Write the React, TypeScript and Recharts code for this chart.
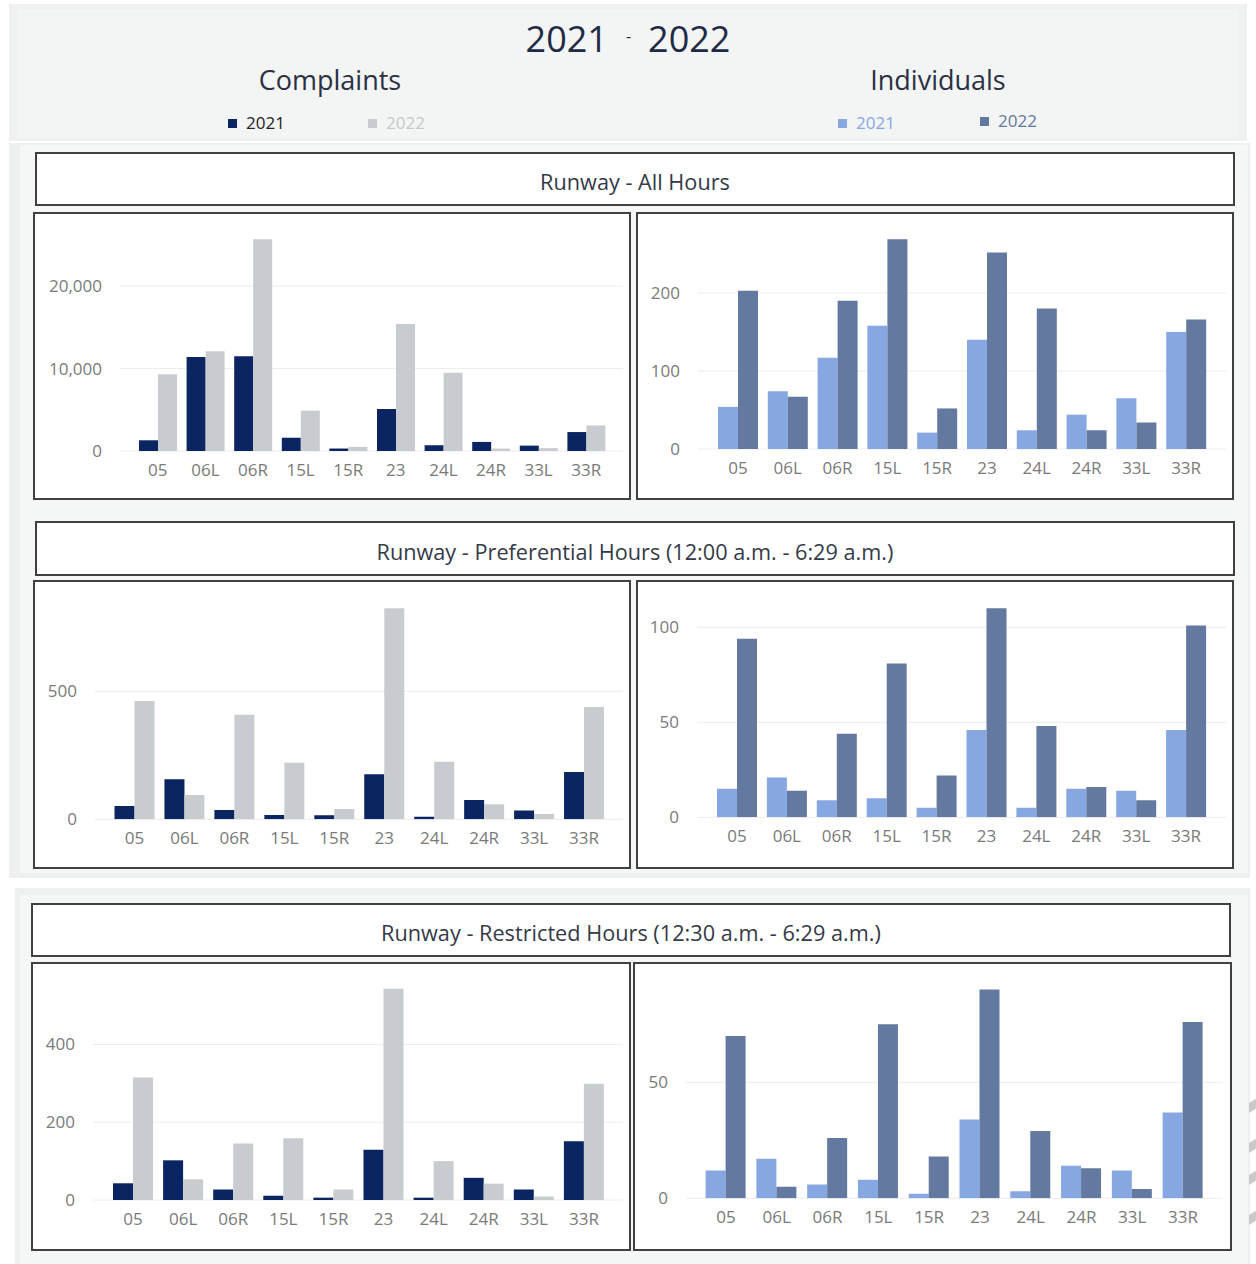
import React from 'react';
import { BarChart, Bar, XAxis, YAxis, CartesianGrid } from 'recharts';

const runways = ['05', '06L', '06R', '15L', '15R', '23', '24L', '24R', '33L', '33R'];

const complaintsAll2021 = [1300, 11400, 11500, 1600, 300, 5100, 700, 1100, 650, 2300];
const complaintsAll2022 = [9300, 12100, 25700, 4900, 500, 15400, 9500, 300, 350, 3100];
const individualsAll2021 = [54, 74, 117, 158, 21, 140, 24, 44, 65, 150];
const individualsAll2022 = [203, 67, 190, 269, 52, 252, 180, 24, 34, 166];

const complaintsPref2021 = [52, 156, 36, 17, 16, 176, 10, 75, 34, 185];
const complaintsPref2022 = [462, 95, 408, 221, 40, 824, 225, 59, 21, 439];
const individualsPref2021 = [15, 21, 9, 10, 5, 46, 5, 15, 14, 46];
const individualsPref2022 = [94, 14, 44, 81, 22, 110, 48, 16, 9, 101];

const complaintsRestr2021 = [43, 102, 27, 11, 6, 129, 6, 57, 27, 151];
const complaintsRestr2022 = [315, 53, 145, 159, 27, 543, 100, 42, 9, 299];
const individualsRestr2021 = [12, 17, 6, 8, 2, 34, 3, 14, 12, 37];
const individualsRestr2022 = [70, 5, 26, 75, 18, 90, 29, 13, 4, 76];

const ticksComplaintsAll = [0, 10000, 20000];
const ticksIndividualsAll = [0, 100, 200];
const ticksComplaintsPref = [0, 500];
const ticksIndividualsPref = [0, 50, 100];
const ticksComplaintsRestr = [0, 200, 400];
const ticksIndividualsRestr = [0, 50];

const FONT = "'Segoe UI', 'Open Sans', sans-serif";
const C_NAVY = '#0a2561';
const C_LGRAY = '#c8ccd0';
const C_LBLUE = '#86a7e2';
const C_SLATE = '#64799f';

const build = (a: number[], b: number[]) => runways.map((r, i) => ({ runway: r, y2021: a[i], y2022: b[i] }));

type ChartCfg = {
  left: number; top: number; w: number; h: number;
  L: number; R: number; T: number; B: number;
  max: number; ticks: number[]; padL: number; padR: number;
  a: number[]; b: number[]; c1: string; c2: string;
};

const fmt = (v: number) => v.toLocaleString('en-US');

function Panel({ cfg }: { cfg: ChartCfg }) {
  const data = build(cfg.a, cfg.b);
  const xH = 30;
  const gridGen = (props: any) => {
    const yAxis = props && props.yAxis;
    if (yAxis && typeof yAxis.scale === 'function') {
      return cfg.ticks.map((t) => yAxis.scale(t));
    }
    const off = props.offset;
    return cfg.ticks.map((t) => off.top + off.height * (1 - t / cfg.max));
  };
  return (
    <div style={{ position: 'absolute', left: cfg.left - 2, top: cfg.top - 2, width: cfg.w + 4, height: cfg.h + 4, border: '2px solid #404040', boxSizing: 'border-box', background: '#fff' }}>
      <BarChart
        width={cfg.w}
        height={cfg.h}
        data={data}
        margin={{ top: cfg.T, right: cfg.w - cfg.R, bottom: cfg.h - cfg.B - xH, left: 0 }}
        barCategoryGap={5}
        barGap={0}
      >
        <CartesianGrid vertical={false} stroke="#ececec" strokeWidth={1} horizontalCoordinatesGenerator={gridGen} />
        <XAxis
          dataKey="runway"
          axisLine={false}
          tickLine={false}
          tickSize={0}
          tickMargin={13}
          height={xH}
          interval={0}
          padding={{ left: cfg.padL, right: cfg.padR }}
          tick={{ fill: '#7a7a7a', fontSize: 17, fontFamily: FONT }}
        />
        <YAxis
          width={cfg.L}
          domain={[0, cfg.max]}
          ticks={cfg.ticks}
          allowDataOverflow
          axisLine={false}
          tickLine={false}
          tickSize={0}
          tickMargin={18}
          tickFormatter={fmt}
          tick={{ fill: '#7a7a7a', fontSize: 17, fontFamily: FONT }}
        />
        <Bar dataKey="y2021" fill={cfg.c1} isAnimationActive={false} />
        <Bar dataKey="y2022" fill={cfg.c2} isAnimationActive={false} />
      </BarChart>
    </div>
  );
}

function TitleBox({ left, top, width, height, text }: { left: number; top: number; width: number; height: number; text: string }) {
  return (
    <div style={{ position: 'absolute', left, top, width, height, border: '2px solid #404040', boxSizing: 'border-box', background: '#fff', display: 'flex', alignItems: 'center', justifyContent: 'center', fontFamily: FONT, fontSize: 21.7, color: '#343a48', paddingTop: 5 }}>
      {text}
    </div>
  );
}

const charts: ChartCfg[] = [
  { left: 35, top: 214, w: 594, h: 284, L: 85, R: 588, T: 14.5, B: 237, max: 27000, ticks: ticksComplaintsAll, padL: 14, padR: 13, a: complaintsAll2021, b: complaintsAll2022, c1: C_NAVY, c2: C_LGRAY },
  { left: 638, top: 214, w: 594, h: 284, L: 60, R: 588, T: 12.7, B: 235, max: 285, ticks: ticksIndividualsAll, padL: 15, padR: 15, a: individualsAll2021, b: individualsAll2022, c1: C_LBLUE, c2: C_SLATE },
  { left: 35, top: 582, w: 594, h: 285, L: 60, R: 588, T: 19.7, B: 237.3, max: 850, ticks: ticksComplaintsPref, padL: 14.5, padR: 14, a: complaintsPref2021, b: complaintsPref2022, c1: C_NAVY, c2: C_LGRAY },
  { left: 638, top: 582, w: 594, h: 285, L: 59, R: 588, T: 16.8, B: 235.3, max: 115, ticks: ticksIndividualsPref, padL: 15, padR: 15, a: individualsPref2021, b: individualsPref2022, c1: C_LBLUE, c2: C_SLATE },
  { left: 33, top: 964, w: 596, h: 285, L: 60, R: 590, T: 14.3, B: 236, max: 570, ticks: ticksComplaintsRestr, padL: 15, padR: 14, a: complaintsRestr2021, b: complaintsRestr2022, c1: C_NAVY, c2: C_LGRAY },
  { left: 635, top: 964, w: 595, h: 285, L: 51, R: 588, T: 13.9, B: 234.3, max: 95, ticks: ticksIndividualsRestr, padL: 14.6, padR: 14.6, a: individualsRestr2021, b: individualsRestr2022, c1: C_LBLUE, c2: C_SLATE },
];

function LegendItem({ left, top, color, textColor, label }: { left: number; top: number; color: string; textColor: string; label: string }) {
  return (
    <div style={{ position: 'absolute', left, top, display: 'flex', alignItems: 'center', fontFamily: FONT, fontSize: 17, color: textColor, lineHeight: '20px' }}>
      <span style={{ display: 'inline-block', width: 9, height: 9, background: color, marginRight: 9 }} />
      <span>{label}</span>
    </div>
  );
}

export default function App() {
  return (
    <div style={{ position: 'absolute', left: 0, top: 0, width: 1256, height: 1264, background: '#fff', overflow: 'hidden', fontFamily: FONT }}>
      {/* header */}
      <div style={{ position: 'absolute', left: 9, top: 4, width: 1238, height: 137, background: '#eff1f0' }} />
      <div style={{ position: 'absolute', left: 17, top: 9, width: 1221, height: 129, background: '#f3f4f4' }} />
      <div style={{ position: 'absolute', left: 0, top: 14, width: 1256, textAlign: 'center', fontSize: 36, color: '#1f2a44', lineHeight: '50px' }}>
        <span>2021</span>
        <span style={{ fontSize: 16, position: 'relative', top: -10, margin: '0 17px 0 18px' }}>-</span>
        <span>2022</span>
      </div>
      <div style={{ position: 'absolute', left: 230, top: 62, width: 200, textAlign: 'center', fontSize: 27, color: '#2b3142', lineHeight: '36px' }}>Complaints</div>
      <div style={{ position: 'absolute', left: 838, top: 62, width: 200, textAlign: 'center', fontSize: 27, color: '#2b3142', lineHeight: '36px' }}>Individuals</div>
      <LegendItem left={228} top={113} color={C_NAVY} textColor="#222" label="2021" />
      <LegendItem left={368} top={113} color={C_LGRAY} textColor="#c5c9cd" label="2022" />
      <LegendItem left={838} top={113} color={C_LBLUE} textColor={C_LBLUE} label="2021" />
      <LegendItem left={980} top={111} color={C_SLATE} textColor={C_SLATE} label="2022" />

      {/* middle block */}
      <div style={{ position: 'absolute', left: 9, top: 143, width: 1241, height: 735, background: '#eef0ef' }} />
      <div style={{ position: 'absolute', left: 20, top: 145, width: 1228, height: 728, background: '#f5f6f6' }} />
      {/* lower block */}
      <div style={{ position: 'absolute', left: 15, top: 888, width: 1235, height: 376, background: '#eef0ef' }} />
      <div style={{ position: 'absolute', left: 20, top: 895, width: 1228, height: 369, background: '#f5f6f6' }} />

      {[1100, 1140, 1172, 1212].map((y, i) => (
        <div key={i} style={{ position: 'absolute', left: 1249, top: y, width: 10, height: 10, background: '#c9c9c9', transform: 'skewY(-30deg)' }} />
      ))}

      <TitleBox left={35} top={152} width={1200} height={54} text="Runway - All Hours" />
      <TitleBox left={35} top={521} width={1200} height={55} text="Runway - Preferential Hours (12:00 a.m. - 6:29 a.m.)" />
      <TitleBox left={31} top={903} width={1200} height={54} text="Runway - Restricted Hours (12:30 a.m. - 6:29 a.m.)" />

      {charts.map((c, i) => (
        <Panel key={i} cfg={c} />
      ))}
    </div>
  );
}
